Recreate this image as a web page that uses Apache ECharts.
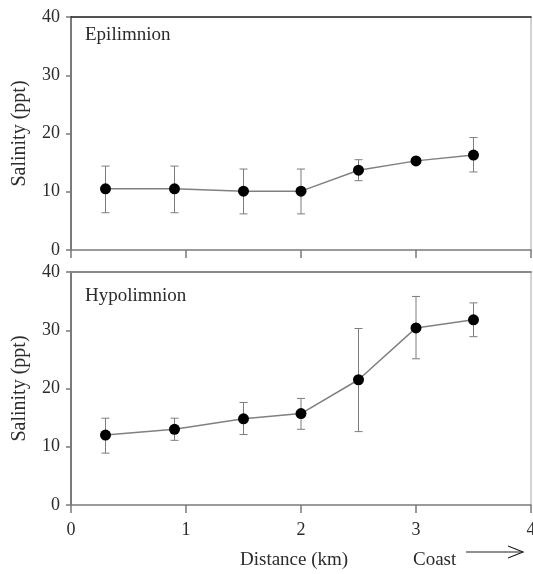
<!DOCTYPE html>
<html>
<head>
<meta charset="utf-8">
<script src="https://cdn.jsdelivr.net/npm/echarts@6/dist/echarts.min.js"></script>
<style>
  html, body { margin: 0; padding: 0; background: #fff; }
  #chart { width: 533px; height: 574px; }
</style>
</head>
<body>
<div id="chart"></div>
<script>
// Sampling stations, distance offshore (km)
const distance = [0.3, 0.9, 1.5, 2.0, 2.5, 3.0, 3.5];

// Epilimnion salinity (ppt): mean and error-bar limits
const epiMean = [10.5, 10.5, 10.1, 10.1, 13.7, 15.3, 16.3];
const epiHigh = [14.4, 14.4, 13.9, 13.9, 15.5, 15.6, 19.3];
const epiLow  = [6.4, 6.4, 6.2, 6.2, 11.9, 15.0, 13.4];

// Hypolimnion salinity (ppt): mean and error-bar limits
const hypoMean = [12.0, 13.0, 14.8, 15.7, 21.5, 30.4, 31.8];
const hypoHigh = [14.9, 14.9, 17.6, 18.3, 30.3, 35.8, 34.7];
const hypoLow  = [8.9, 11.1, 12.1, 13.0, 12.6, 25.1, 28.9];

// Axis ticks
const xTicks = [0, 1, 2, 3, 4];
const yTicks = [0, 10, 20, 30, 40];

const panelLabels = ['Epilimnion', 'Hypolimnion'];
const yTitle = 'Salinity (ppt)';
const xTitle = 'Distance (km)';
const coastLabel = 'Coast';

const FONT = "'Liberation Serif', 'Times New Roman', serif";
const TEXT = '#2b2b2b';
const AXIS = '#7a7a7a';

// Fixed plot boxes; labels may run past the canvas edge
const grids = [
  { left: 71, right: 2, top: 17, height: 233, containLabel: false, outerBoundsMode: 'none' },
  { left: 71, right: 2, top: 272, height: 233, containLabel: false, outerBoundsMode: 'none' }
];

function bottomAxis(gridIndex, showLabels) {
  return {
    type: 'value', gridIndex, position: 'bottom',
    min: xTicks[0], max: xTicks[xTicks.length - 1],
    interval: xTicks[1] - xTicks[0],
    axisLine: { show: true, onZero: false, lineStyle: { color: AXIS, width: 1.5 } },
    axisTick: { show: true, inside: false, length: 8, lineStyle: { color: AXIS, width: 1.5 } },
    axisLabel: {
      show: showLabels, margin: 16, color: TEXT,
      fontFamily: FONT, fontSize: 18,
      showMinLabel: true, showMaxLabel: true, hideOverlap: false
    },
    splitLine: { show: false }
  };
}

function topBorder(gridIndex, color, width) {
  return {
    type: 'value', gridIndex, position: 'top',
    min: xTicks[0], max: xTicks[xTicks.length - 1],
    axisLine: { show: true, onZero: false, lineStyle: { color, width } },
    axisTick: { show: false }, axisLabel: { show: false }, splitLine: { show: false }
  };
}

function leftAxis(gridIndex) {
  return {
    type: 'value', gridIndex, position: 'left',
    min: yTicks[0], max: yTicks[yTicks.length - 1],
    interval: yTicks[1] - yTicks[0],
    name: yTitle, nameLocation: 'middle', nameGap: 41,
    nameTextStyle: { color: TEXT, fontFamily: FONT, fontSize: 20 },
    axisLine: { show: true, onZero: false, lineStyle: { color: AXIS, width: 2 } },
    axisTick: { show: true, inside: false, length: 5, lineStyle: { color: AXIS, width: 1.5 } },
    axisLabel: { margin: 11, color: TEXT, fontFamily: FONT, fontSize: 18 },
    splitLine: { show: false }
  };
}

function rightBorder(gridIndex) {
  return {
    type: 'value', gridIndex, position: 'right',
    min: yTicks[0], max: yTicks[yTicks.length - 1],
    axisLine: { show: true, onZero: false, lineStyle: { color: '#c4c4c4', width: 1.5 } },
    axisTick: { show: false }, axisLabel: { show: false }, splitLine: { show: false }
  };
}

// Vertical error bar with short caps, placed through the axis scales
function errorBar(params, api) {
  const x = api.value(0);
  const hi = api.coord([x, api.value(1)]);
  const lo = api.coord([x, api.value(2)]);
  const cap = 4;
  const style = { stroke: '#7d7d7d', lineWidth: 1 };
  return {
    type: 'group',
    children: [
      { type: 'line', shape: { x1: hi[0], y1: hi[1], x2: lo[0], y2: lo[1] }, style },
      { type: 'line', shape: { x1: hi[0] - cap, y1: hi[1], x2: hi[0] + cap, y2: hi[1] }, style },
      { type: 'line', shape: { x1: lo[0] - cap, y1: lo[1], x2: lo[0] + cap, y2: lo[1] }, style }
    ]
  };
}

function panelSeries(axisIndex, mean, high, low) {
  return [
    {
      type: 'custom', xAxisIndex: axisIndex, yAxisIndex: axisIndex,
      renderItem: errorBar, z: 2, silent: true,
      encode: { x: 0, y: [1, 2] },
      data: distance.map((d, i) => [d, high[i], low[i]])
    },
    {
      type: 'line', xAxisIndex: axisIndex, yAxisIndex: axisIndex,
      z: 3, silent: true, animation: false,
      symbol: 'circle', symbolSize: 11,
      itemStyle: { color: '#000' },
      lineStyle: { color: '#808080', width: 1.5 },
      data: distance.map((d, i) => [d, mean[i]])
    }
  ];
}

const chart = echarts.init(document.getElementById('chart'), null, { renderer: 'canvas' });

chart.setOption({
  backgroundColor: '#fff',
  animation: false,
  grid: grids,
  xAxis: [
    bottomAxis(0, false),
    bottomAxis(1, true),
    topBorder(0, '#1a1a1a', 1.5),
    topBorder(1, '#8a8a8a', 2)
  ],
  yAxis: [
    leftAxis(0),
    leftAxis(1),
    rightBorder(0),
    rightBorder(1)
  ],
  series: [
    ...panelSeries(0, epiMean, epiHigh, epiLow),
    ...panelSeries(1, hypoMean, hypoHigh, hypoLow)
  ],
  graphic: [
    {
      type: 'text', left: 85, top: 26,
      style: { text: panelLabels[0], fill: TEXT, font: '19px ' + FONT }
    },
    {
      type: 'text', left: 85, top: 287,
      style: { text: panelLabels[1], fill: TEXT, font: '19px ' + FONT }
    },
    {
      type: 'text', left: 240, top: 551,
      style: { text: xTitle, fill: TEXT, font: '19px ' + FONT }
    },
    {
      type: 'text', left: 413, top: 551,
      style: { text: coastLabel, fill: TEXT, font: '19px ' + FONT }
    },
    {
      type: 'group',
      children: [
        { type: 'line', shape: { x1: 466, y1: 552, x2: 523, y2: 552 },
          style: { stroke: '#222', lineWidth: 1.2 } },
        { type: 'polyline', shape: { points: [[508, 546], [523, 552], [508, 558]] },
          style: { stroke: '#222', lineWidth: 1.2, fill: null } }
      ]
    }
  ]
});
</script>
</body>
</html>
